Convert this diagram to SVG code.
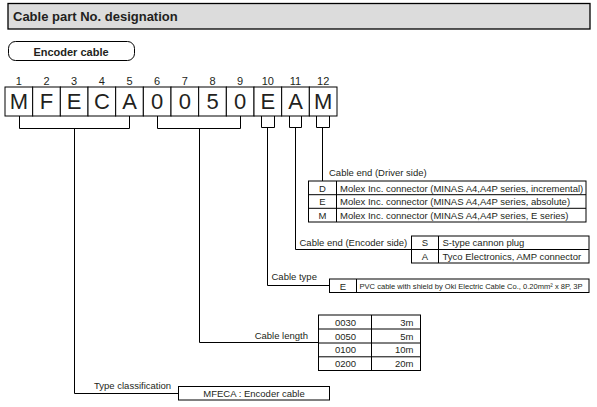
<svg xmlns="http://www.w3.org/2000/svg" width="597" height="407" viewBox="0 0 597 407">
<style>
text{font-family:"Liberation Sans",Arial,sans-serif;fill:#231f20}
.hd{font-size:13px;font-weight:bold}
.pill{font-size:11px;font-weight:bold}
.num{font-size:11px;text-anchor:middle}
.big{font-size:22px;text-anchor:middle}
.s{font-size:9.5px}
.c{text-anchor:middle}
.r{text-anchor:end}
.box{fill:#fff;stroke:#000;stroke-width:1}
.ln{fill:none;stroke:#000;stroke-width:1}
</style>
<rect width="597" height="407" fill="#fff"/>
<g id="header">
<rect x="8" y="3.5" width="582" height="25.5" fill="#dcdcdc" stroke="#000" stroke-width="1.3"/>
<text class="hd" x="13" y="21">Cable part No. designation</text>
</g>
<g id="encoder-cable-label">
<rect x="8.5" y="41.5" width="126" height="19" rx="7" fill="#fff" stroke="#000" stroke-width="1"/>
<text class="pill c" x="71" y="55.5">Encoder cable</text>
</g>
<g id="digits">
<g id="d1"><rect class="box" x="5" y="87" width="27.67" height="29"/><text class="num" x="18.83" y="85">1</text><text class="big" x="18.83" y="108.5">M</text></g>
<g id="d2"><rect class="box" x="32.67" y="87" width="27.67" height="29"/><text class="num" x="46.5" y="85">2</text><text class="big" x="46.5" y="108.5">F</text></g>
<g id="d3"><rect class="box" x="60.33" y="87" width="27.67" height="29"/><text class="num" x="74.17" y="85">3</text><text class="big" x="74.17" y="108.5">E</text></g>
<g id="d4"><rect class="box" x="88" y="87" width="27.67" height="29"/><text class="num" x="101.83" y="85">4</text><text class="big" x="101.83" y="108.5">C</text></g>
<g id="d5"><rect class="box" x="115.67" y="87" width="27.67" height="29"/><text class="num" x="129.5" y="85">5</text><text class="big" x="129.5" y="108.5">A</text></g>
<g id="d6"><rect class="box" x="143.33" y="87" width="27.67" height="29"/><text class="num" x="157.17" y="85">6</text><text class="big" x="157.17" y="108.5">0</text></g>
<g id="d7"><rect class="box" x="171" y="87" width="27.67" height="29"/><text class="num" x="184.83" y="85">7</text><text class="big" x="184.83" y="108.5">0</text></g>
<g id="d8"><rect class="box" x="198.67" y="87" width="27.67" height="29"/><text class="num" x="212.5" y="85">8</text><text class="big" x="212.5" y="108.5">5</text></g>
<g id="d9"><rect class="box" x="226.33" y="87" width="27.67" height="29"/><text class="num" x="240.17" y="85">9</text><text class="big" x="240.17" y="108.5">0</text></g>
<g id="d10"><rect class="box" x="254" y="87" width="27.67" height="29"/><text class="num" x="267.83" y="85">10</text><text class="big" x="267.83" y="108.5">E</text></g>
<g id="d11"><rect class="box" x="281.67" y="87" width="27.67" height="29"/><text class="num" x="295.5" y="85">11</text><text class="big" x="295.5" y="108.5">A</text></g>
<g id="d12"><rect class="box" x="309.33" y="87" width="27.67" height="29"/><text class="num" x="323.17" y="85">12</text><text class="big" x="323.17" y="108.5">M</text></g>
</g>
<g id="connectors">
<path class="ln" d="M19.5 116V128.5H129.5V116M74.5 128.5V393.5H178"/>
<path class="ln" d="M157.5 116V128.5H240.5V116M199.5 128.5V342.5H318.5"/>
<path class="ln" d="M261.5 116V127.5H274.5V116M267.5 127.5V285.5H329.5"/>
<path class="ln" d="M289.5 116V127.5H301.5V116M295.5 127.5V249.5H411.5"/>
<path class="ln" d="M316.5 116V127.5H329.5V116M322.5 127.5V181"/>
</g>
<g id="driver-side">
<text class="s" x="329" y="175.5">Cable end (Driver side)</text>
<rect class="box" x="308.5" y="181" width="277.5" height="41"/>
<path class="ln" d="M308.5 194.7H586M308.5 208.3H586M336.5 181V222"/>
<text class="s c" x="322.5" y="191.5">D</text>
<text class="s" x="340" y="191.5">Molex Inc. connector (MINAS A4,A4P series, incremental)</text>
<text class="s c" x="322.5" y="205">E</text>
<text class="s" x="340" y="205">Molex Inc. connector (MINAS A4,A4P series, absolute)</text>
<text class="s c" x="322.5" y="218.7">M</text>
<text class="s" x="340" y="218.7">Molex Inc. connector (MINAS A4,A4P series, E series)</text>
</g>
<g id="encoder-side">
<text class="s" x="299.5" y="246">Cable end (Encoder side)</text>
<rect class="box" x="411.5" y="236" width="177.5" height="27"/>
<path class="ln" d="M411.5 249.5H589M438.5 236V263"/>
<text class="s c" x="425" y="246">S</text>
<text class="s" x="442.5" y="246">S-type cannon plug</text>
<text class="s c" x="425" y="259.5">A</text>
<text class="s" x="442.5" y="259.5">Tyco Electronics, AMP connector</text>
</g>
<g id="cable-type">
<text class="s" x="271.5" y="280">Cable type</text>
<rect class="box" x="329.5" y="279" width="259.5" height="13.5"/>
<path class="ln" d="M356.5 279V292.5"/>
<text class="s c" x="343" y="289.5">E</text>
<text x="359.5" y="289.3" font-size="7.3" textLength="223" lengthAdjust="spacingAndGlyphs">PVC cable with shield by Oki Electric Cable Co., 0.20mm² x 8P, 3P</text>
</g>
<g id="cable-length">
<text class="s r" x="308" y="339">Cable length</text>
<rect class="box" x="318.5" y="315" width="102" height="55.5"/>
<path class="ln" d="M318.5 329H420.5M318.5 343H420.5M318.5 356.8H420.5M371.5 315V370.5"/>
<text class="s c" x="345.5" y="325.5">0030</text><text class="s r" x="413.5" y="325.5">3m</text>
<text class="s c" x="345.5" y="339.5">0050</text><text class="s r" x="413.5" y="339.5">5m</text>
<text class="s c" x="345.5" y="353.3">0100</text><text class="s r" x="413.5" y="353.3">10m</text>
<text class="s c" x="345.5" y="367">0200</text><text class="s r" x="413.5" y="367">20m</text>
</g>
<g id="type-classification">
<text class="s" x="94" y="388.5">Type classification</text>
<rect class="box" x="178.5" y="386.5" width="151" height="13.5"/>
<text class="s c" x="254" y="397">MFECA : Encoder cable</text>
</g>
</svg>
